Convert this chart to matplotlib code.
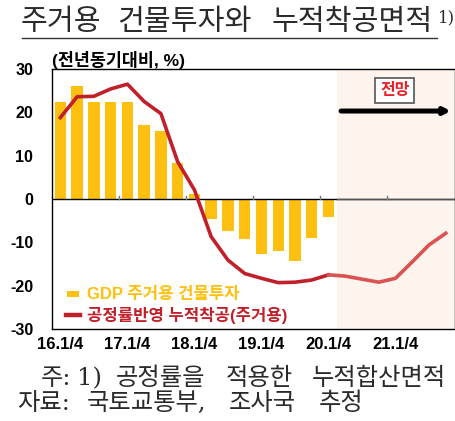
import matplotlib
matplotlib.use("Agg")
import matplotlib.pyplot as plt
from matplotlib.patches import Rectangle
from matplotlib.lines import Line2D
import numpy as np

plt.rcParams['font.family'] = ['Liberation Sans', 'Noto Sans CJK KR']

# ---- data ----
tick_labels = ["16.1/4", "17.1/4", "18.1/4", "19.1/4", "20.1/4", "21.1/4"]
bar_values = [22.3, 26.1, 22.3, 22.5, 22.3, 17.1, 15.6, 8.2, 1.1,
              -4.7, -7.3, -9.2, -12.7, -11.9, -14.2, -8.9, -4.1]
line_actual = [18.8, 23.6, 23.7, 25.4, 26.5, 22.5, 19.7, 8.6, 2.1,
               -8.7, -14.1, -17.2, -18.3, -19.3, -19.2, -18.7, -17.5]
line_forecast = [-17.5, -17.8, -18.5, -19.2, -18.3, -14.5, -10.6, -7.9]
ytick_values = [-30, -20, -10, 0, 10, 20, 30]
bar_name = "GDP 주거용 건물투자"
line_name = "공정률반영 누적착공(주거용)"
title_words = ["주거용", "건물투자와", "누적착공면적"]
note1_words = ["주:", "1)", "공정률을", "적용한", "누적합산면적"]
note2_words = ["자료:", "국토교통부,", "조사국", "추정"]

BAR_C = "#FDC010"
LINE_C = "#C0202A"
FC_C = "#DA5352"
SHADE = "#FDF4EE"
TXT = "#2a2a2a"

W, H = 456, 421
fig = plt.figure(figsize=(W/100, H/100), dpi=100)
ax = fig.add_axes([52/W, 1-329/H, (455-52)/W, (329-69)/H])

def fx(px):
    return px / W

def fy(py):
    return 1 - py / H

n_act = len(line_actual)
x_bar = np.arange(len(bar_values))
x_act = np.arange(n_act)
x_fc = np.arange(n_act - 1, n_act - 1 + len(line_forecast))

ax.set_xlim(-0.5, 23.55)
ax.set_ylim(-30, 30)

ax.axvspan(16.5, 23.55, color=SHADE, zorder=0, lw=0)
ax.bar(x_bar, bar_values, width=0.68, color=BAR_C, zorder=2)
ax.plot(x_act, line_actual, color=LINE_C, lw=2.6, zorder=3, solid_joinstyle='round')
ax.plot(x_fc, line_forecast, color=FC_C, lw=2.6, zorder=3, solid_joinstyle='round')
ax.axhline(0, color='black', lw=1.0, zorder=2.5)
ax.plot([16.5, 23.55], [0, 0], color='#555555', lw=1.0, zorder=2.6)

# small year-boundary ticks on zero line
for xb in [3.5, 7.5, 11.5, 15.5, 19.5]:
    ax.plot([xb, xb], [0, 0.8], color='#777777', lw=1.0, zorder=2.6)

ax.set_yticks(ytick_values)
ax.set_yticklabels([("-" + str(abs(v))) if v < 0 else str(v) for v in ytick_values],
                   fontsize=11.5, fontweight='bold')
ax.set_xticks([0, 4, 8, 12, 16, 20])
ax.set_xticklabels(tick_labels, fontsize=12, fontweight='bold')
ax.tick_params(axis='both', length=0)
ax.tick_params(axis='x', pad=6)
ax.tick_params(axis='y', pad=13.5)
for s in ax.spines.values():
    s.set_color('black')
    s.set_linewidth(1.0)

fig.text(fx(52), fy(60), "(전년동기대비, %)", fontsize=12.5,
         fontweight='bold', ha='left', va='center')

# forecast label and arrow
ax.text(19.95, 25.0, "전망", fontsize=11.5, fontweight='bold', color='#E8202A',
        ha='center', va='center',
        bbox=dict(boxstyle='square,pad=0.3', fc='white', ec='#555555', lw=1.2))
ax.annotate("", xy=(23.3, 20.3), xytext=(16.75, 20.3),
            arrowprops=dict(arrowstyle='-|>,head_length=0.35,head_width=0.18',
                            color='black', lw=3.6, shrinkA=0, shrinkB=0))

# manual legend
fig.add_artist(Rectangle((fx(67), fy(297)), fx(12), 6/H, transform=fig.transFigure,
                         color=BAR_C, lw=0))
fig.text(fx(87), fy(294), bar_name, fontsize=12, fontweight='bold', color=BAR_C,
         ha='left', va='center')
fig.add_artist(Line2D([fx(66), fx(80)], [fy(315), fy(315)], color=LINE_C, lw=3.2,
                      transform=fig.transFigure))
fig.text(fx(87), fy(315), line_name, fontsize=12, fontweight='bold', color=LINE_C,
         ha='left', va='center')

# title
for word, xp in zip(title_words, [21, 117, 272]):
    fig.text(fx(xp), fy(22.5), word, fontsize=21, family='Noto Sans CJK KR',
             fontweight='light', ha='left', va='center', color=TXT)
fig.text(fx(438), fy(18), "1)", fontsize=12, ha='left', va='center', color=TXT,
         family='DejaVu Serif')
fig.add_artist(Line2D([fx(22), fx(437)], [fy(37.5), fy(37.5)], color='#333333', lw=1.0,
                      transform=fig.transFigure))

# footnotes
for word, xp in zip(note1_words, [41, 77, 116, 226, 312]):
    fig.text(fx(xp), fy(378.5), word, fontsize=17.5, fontweight='light',
             family=['DejaVu Serif', 'Noto Sans CJK KR'],
             ha='left', va='center', color=TXT)
for word, xp in zip(note2_words, [17, 87, 229, 319]):
    fig.text(fx(xp), fy(403), word, fontsize=17.5, fontweight='light',
             family=['DejaVu Serif', 'Noto Sans CJK KR'],
             ha='left', va='center', color=TXT)

fig.savefig("out.png", dpi=100)
